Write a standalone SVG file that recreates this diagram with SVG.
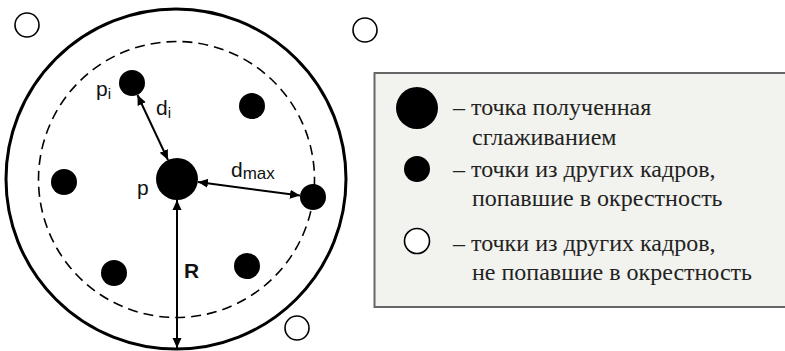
<svg xmlns="http://www.w3.org/2000/svg" width="785" height="351" viewBox="0 0 785 351">
<style>
.dot{fill:#000}
.hollow{fill:#fff;stroke:#000;stroke-width:1.6}
.arr{stroke:#000;stroke-width:2;fill:none}
</style>
<defs>
<marker id="ah" viewBox="0 0 10 10" refX="10" refY="5" markerWidth="10" markerHeight="10" markerUnits="userSpaceOnUse" orient="auto-start-reverse">
<path d="M0,0.5 L10,5 L0,9.5 Z" fill="#000"/>
</marker>
</defs>
<rect width="785" height="351" fill="#fff"/>
<g id="outer-circle"><circle cx="176" cy="179" r="170" fill="none" stroke="#000" stroke-width="3"/></g>
<g id="dashed-circle"><circle cx="176.5" cy="179.5" r="138" fill="none" stroke="#000" stroke-width="1.6" stroke-dasharray="10,6"/></g>
<g id="outside-points">
<circle class="hollow" cx="27" cy="25" r="12"/>
<circle class="hollow" cx="365" cy="30" r="12"/>
<circle class="hollow" cx="297" cy="328" r="12"/>
</g>
<g id="inside-points">
<circle id="pi" class="dot" cx="132" cy="83" r="13"/>
<circle class="dot" cx="252" cy="106" r="13"/>
<circle class="dot" cx="64" cy="182" r="13"/>
<circle class="dot" cx="313" cy="197" r="13"/>
<circle class="dot" cx="114" cy="273" r="13"/>
<circle class="dot" cx="247" cy="266" r="13"/>
</g>
<g id="p"><circle class="dot" cx="177" cy="179" r="21"/></g>
<g id="connectors">
<line class="arr" marker-start="url(#ah)" marker-end="url(#ah)" x1="137.5" y1="95" x2="168" y2="160"/>
<line class="arr" marker-start="url(#ah)" marker-end="url(#ah)" x1="198" y1="182" x2="300" y2="195.5"/>
<line class="arr" marker-start="url(#ah)" marker-end="url(#ah)" x1="177" y1="200" x2="177" y2="348"/>
</g>
<g id="labels">
<text x="96" y="96" font-family="Liberation Sans, Arial, sans-serif" font-size="21" fill="#111">p<tspan font-size="15" dy="3">i</tspan></text>
<text x="156" y="115" font-family="Liberation Sans, Arial, sans-serif" font-size="21" fill="#111">d<tspan font-size="15" dy="3">i</tspan></text>
<text x="231" y="177" font-family="Liberation Sans, Arial, sans-serif" font-size="21" fill="#111">d<tspan font-size="17" dy="2">max</tspan></text>
<text x="137" y="195" font-family="Liberation Sans, Arial, sans-serif" font-size="21" fill="#111">p</text>
<text x="184" y="278" font-family="Liberation Sans, Arial, sans-serif" font-size="21" font-weight="bold" fill="#111">R</text>
</g>
<g id="legend">
<rect x="374.5" y="73" width="420" height="234" fill="#f2f3ee" stroke="#666" stroke-width="2"/>
<circle class="dot" cx="417" cy="108" r="21"/>
<circle class="dot" cx="417" cy="169" r="13"/>
<circle class="hollow" cx="417" cy="241" r="12.5"/>
<text x="453" y="115" font-family="Times New Roman, Liberation Serif, serif" font-size="24" fill="#222">– точка полученная</text>
<text x="472" y="145" font-family="Times New Roman, Liberation Serif, serif" font-size="24" fill="#222">сглаживанием</text>
<text x="453" y="177" font-family="Times New Roman, Liberation Serif, serif" font-size="24" fill="#222">– точки из других кадров,</text>
<text x="472" y="206" font-family="Times New Roman, Liberation Serif, serif" font-size="24" fill="#222">попавшие в окрестность</text>
<text x="453" y="251" font-family="Times New Roman, Liberation Serif, serif" font-size="24" fill="#222">– точки из других кадров,</text>
<text x="472" y="280" font-family="Times New Roman, Liberation Serif, serif" font-size="24" fill="#222">не попавшие в окрестность</text>
</g>
</svg>
